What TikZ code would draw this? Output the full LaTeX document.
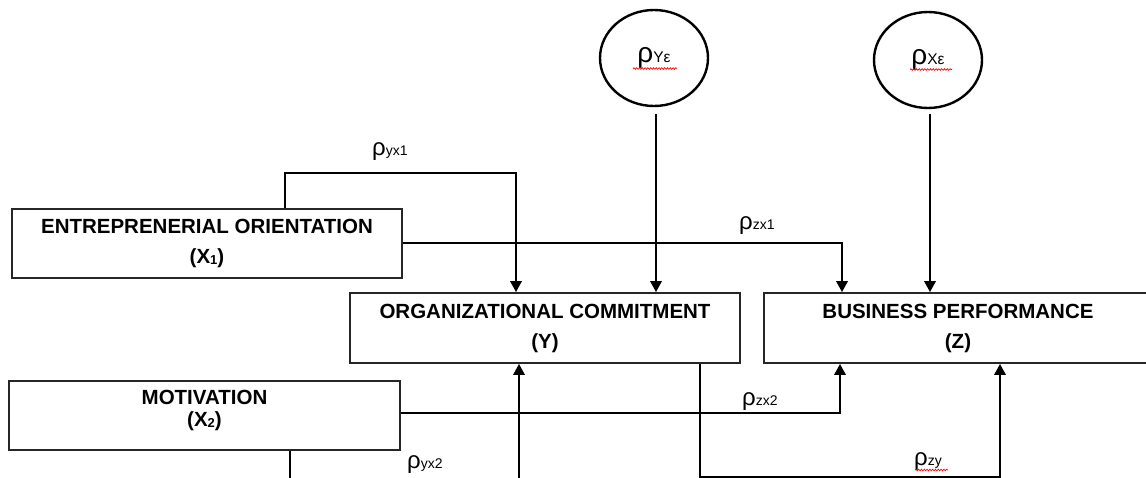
\documentclass[tikz,border=0pt]{standalone}
\usepackage{fontspec}
\setmainfont{Liberation Sans}
\usetikzlibrary{arrows.meta,decorations.pathmorphing,shapes.geometric}
\newcommand\rlab[1]{{\fontsize{24}{24}\selectfont ρ}{\fontsize{14}{14}\selectfont #1}}
\newcommand\rbig[1]{{\fontsize{28}{28}\selectfont ρ}{\fontsize{15.5}{15.5}\selectfont #1}}
\newcommand\sub[1]{{\fontsize{13}{13}\selectfont #1}}
\begin{document}
\begin{tikzpicture}[x=1pt,y=-1pt,
  box/.style={draw=black!85, line width=1.6pt, rectangle, inner sep=0pt, align=center,
    font=\fontsize{20.5}{30}\selectfont\bfseries},
  boxtext/.style={inner sep=0pt, align=center, font=\fontsize{20.5}{22}\selectfont\bfseries},
  errc/.style={draw=black, line width=2.4pt, ellipse, inner sep=0pt,
    minimum width=108pt, minimum height=96pt},
  conn/.style={line width=2.8pt, -{Triangle[length=11pt,width=11pt]}},
  lbl/.style={inner sep=0pt, anchor=base west},
  squiggle/.style={draw=red, line width=0.7pt, decorate,
    decoration={snake, amplitude=0.8pt, segment length=2.8pt}}]
\useasboundingbox (0,0) rectangle (1146,477);
\clip (0,0) rectangle (1146,477);

% error terms
\node[errc] (rYe) at (654,58) {\rbig{Yε}};
\node[errc] (rXe) at (928,60) {\rbig{Xε}};

% boxes
\node[box, minimum width=390pt, minimum height=69pt] (eo) at (207,243.5)
  {ENTREPRENERIAL ORIENTATION\\(X\raisebox{-1pt}{\sub{1}})};
\node[box, minimum width=390pt, minimum height=70pt] (oc) at (545,328)
  {ORGANIZATIONAL COMMITMENT\\(Y)};
\node[box, minimum width=388pt, minimum height=70pt] (bp) at (958,328)
  {BUSINESS PERFORMANCE\\(Z)};
\node[box, minimum width=391pt, minimum height=69pt] (mot) at (204.5,415.5) {};
\node[boxtext] (motT) at (204.5,410) {MOTIVATION\\(X\raisebox{-1pt}{\sub{2}})};

% connectors
\draw[conn] (eo.north -| 285,0) -- (285,173) -| (516,0 |- oc.north);
\draw[conn] (eo.east |- 0,243) -| (842,0 |- bp.north);
\draw[conn] ([xshift=2pt,yshift=-7pt]rYe.south) -- ([xshift=2pt]rYe.south |- oc.north);
\draw[conn] ([xshift=2pt,yshift=-5pt]rXe.south) -- ([xshift=2pt]rXe.south |- bp.north);
\draw[conn] (mot.east |- 0,413) -| (840,0 |- bp.south);
\draw[conn] (mot.south -| 290,0) -- (290,500) -| (519,0 |- oc.south);
\draw[conn] (oc.south -| 700,0) -- (700,477) -| (1000,0 |- bp.south);

% path labels
\node[lbl] (lyx1) at (372,155) {\rlab{yx1}};
\node[lbl] (lzx1) at (739,229) {\rlab{zx1}};
\node[lbl] (lzx2) at (742,405) {\rlab{zx2}};
\node[lbl] (lyx2) at (407,468) {\rlab{yx2}};
\node[lbl] (lzy) at (914,465) {\rlab{zy}};

% spell-check squiggles
\draw[squiggle] (633,68.5) -- (677,68.5);
\draw[squiggle] (910,69.5) -- (952,69.5);
\draw[squiggle] (915,470) -- (948,470);
\end{tikzpicture}
\end{document}
